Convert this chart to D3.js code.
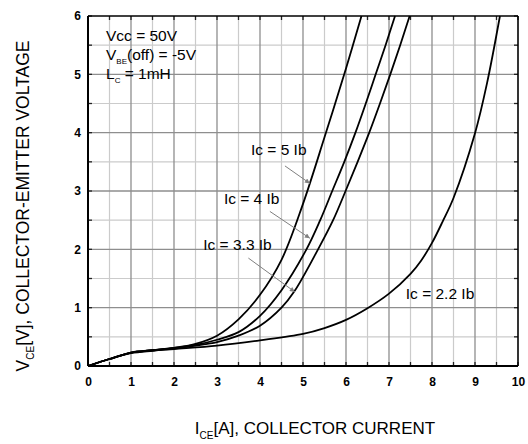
<!DOCTYPE html>
<html>
<head>
<meta charset="utf-8">
<script src="https://cdn.jsdelivr.net/npm/d3@7"></script>
<style>
  body { margin: 0; background: #fff; }
  svg { display: block; font-family: Arial, "Liberation Sans", sans-serif; }
  .tick-label { font-weight: bold; font-size: 12px; }
  .note { font-size: 15.5px; }
</style>
</head>
<body>
<svg id="chart" width="528" height="444"></svg>
<script>
// values: [Ic (A), Vce (V)]
const curve5Ib = [[0,0],[0.5,0.12],[1,0.23],[1.5,0.27],[2,0.31],[2.5,0.38],[3,0.52],[3.5,0.8],[4,1.22],[4.5,1.82],[5,2.78],[5.5,3.92],[6,5.1],[6.36,6.0]];
const curve4Ib = [[0,0],[0.5,0.12],[1,0.23],[1.5,0.27],[2,0.31],[2.5,0.36],[3,0.45],[3.5,0.58],[4,0.86],[4.5,1.3],[5.08,2.0],[5.4,2.5],[5.68,3.0],[5.96,3.5],[6.22,4.0],[6.46,4.5],[6.69,5.0],[6.92,5.5],[7.14,6.0]];
const curve33Ib = [[0,0],[0.5,0.12],[1,0.23],[1.5,0.27],[2,0.3],[2.5,0.35],[3,0.41],[3.5,0.52],[4,0.69],[4.5,1.0],[4.8,1.28],[5.35,2.0],[5.7,2.5],[5.99,3.0],[6.27,3.5],[6.54,4.0],[6.79,4.5],[7.03,5.0],[7.26,5.5],[7.48,6.0]];
const curve22Ib = [[0,0],[0.5,0.12],[1,0.22],[1.5,0.26],[2,0.29],[3,0.35],[4,0.44],[5,0.55],[5.5,0.65],[6,0.79],[6.5,0.99],[7,1.24],[7.5,1.58],[7.75,1.81],[8,2.11],[8.25,2.48],[8.5,2.88],[9,3.99],[9.28,4.85],[9.58,6.0]];

const xTicks = [0,1,2,3,4,5,6,7,8,9,10];
const yTicks = [0,1,2,3,4,5,6];

// curve labels and leader arrows, in data units
const curveLabels = [
  {text: "Ic = 5 Ib",   x: 3.79, y: 3.62, from: [4.58, 3.43], to: [5.16, 3.13]},
  {text: "Ic = 4 Ib",   x: 3.16, y: 2.78, from: [4.23, 2.65], to: [5.16, 2.19]},
  {text: "Ic = 3.3 Ib", x: 2.68, y: 1.99, from: [3.73, 1.85], to: [4.81, 1.27]},
  {text: "Ic = 2.2 Ib", x: 7.39, y: 1.15, from: null, to: null}
];

const svg = d3.select("#chart");
const margin = {left: 88, top: 16, right: 10, bottom: 78};
const W = 528 - margin.left - margin.right;
const H = 444 - margin.top - margin.bottom;

const x = d3.scaleLinear().domain([0, 10]).range([0, W]);
const y = d3.scaleLinear().domain([0, 6]).range([H, 0]);

const g = svg.append("g").attr("transform", `translate(${margin.left},${margin.top})`);

// grid: light half-steps first, then the darker whole steps
const halfX = d3.range(0.5, 10, 1), halfY = d3.range(0.5, 6, 1);
g.append("g").selectAll("line").data(halfX).join("line")
  .attr("x1", d => x(d)).attr("x2", d => x(d)).attr("y1", 0).attr("y2", H)
  .attr("stroke", "#cbcbcb").attr("stroke-width", 1.2);
g.append("g").selectAll("line").data(halfY).join("line")
  .attr("y1", d => y(d)).attr("y2", d => y(d)).attr("x1", 0).attr("x2", W)
  .attr("stroke", "#cbcbcb").attr("stroke-width", 1.2);
g.append("g").selectAll("line").data(xTicks.slice(1, -1)).join("line")
  .attr("x1", d => x(d)).attr("x2", d => x(d)).attr("y1", 0).attr("y2", H)
  .attr("stroke", "#8e8e8e").attr("stroke-width", 1.3);
g.append("g").selectAll("line").data(yTicks.slice(1, -1)).join("line")
  .attr("y1", d => y(d)).attr("y2", d => y(d)).attr("x1", 0).attr("x2", W)
  .attr("stroke", "#8e8e8e").attr("stroke-width", 1.3);

// inward tick marks on every side
const allX = d3.range(0, 10.01, 0.5), allY = d3.range(0, 6.01, 0.5);
const tk = g.append("g").attr("stroke", "#222").attr("stroke-width", 1.3);
allX.forEach(v => {
  tk.append("line").attr("x1", x(v)).attr("x2", x(v)).attr("y1", H).attr("y2", H - 4);
  tk.append("line").attr("x1", x(v)).attr("x2", x(v)).attr("y1", 0).attr("y2", 4);
});
allY.forEach(v => {
  tk.append("line").attr("y1", y(v)).attr("y2", y(v)).attr("x1", 0).attr("x2", 4);
  tk.append("line").attr("y1", y(v)).attr("y2", y(v)).attr("x1", W).attr("x2", W - 4);
});

// axes (labels only, frame drawn separately)
const xAxis = g.append("g").attr("transform", `translate(0,${H})`)
  .call(d3.axisBottom(x).tickValues(xTicks).tickFormat(d3.format("d")).tickSize(0).tickPadding(11));
const yAxis = g.append("g")
  .call(d3.axisLeft(y).tickValues(yTicks).tickFormat(d3.format("d")).tickSize(0).tickPadding(7));
[xAxis, yAxis].forEach(a => {
  a.select(".domain").remove();
  a.selectAll("text").attr("class", "tick-label").attr("fill", "#000").style("font-family", "Arial, 'Liberation Sans', sans-serif");
});

// frame
g.append("line").attr("x1", 0).attr("x2", W).attr("y1", 0).attr("y2", 0).attr("stroke", "#000").attr("stroke-width", 1.6);
g.append("line").attr("x1", W).attr("x2", W).attr("y1", 0).attr("y2", H).attr("stroke", "#000").attr("stroke-width", 1.6);
g.append("line").attr("x1", 0).attr("x2", W).attr("y1", H).attr("y2", H).attr("stroke", "#000").attr("stroke-width", 2);
g.append("line").attr("x1", 0).attr("x2", 0).attr("y1", 0).attr("y2", H).attr("stroke", "#000").attr("stroke-width", 2);

// curves
const line = d3.line().x(d => x(d[0])).y(d => y(d[1])).curve(d3.curveCatmullRom.alpha(0.5));
[curve5Ib, curve4Ib, curve33Ib, curve22Ib].forEach(c => {
  g.append("path").datum(c).attr("d", line)
    .attr("fill", "none").attr("stroke", "#000").attr("stroke-width", 1.8);
});

// arrows
svg.append("defs").append("marker")
  .attr("id", "arr").attr("viewBox", "0 0 10 10").attr("refX", 10).attr("refY", 5)
  .attr("markerWidth", 7).attr("markerHeight", 5).attr("orient", "auto")
  .attr("markerUnits", "userSpaceOnUse")
  .append("path").attr("d", "M0,0 L10,5 L0,10 z").attr("fill", "#808080");

curveLabels.forEach(l => {
  g.append("text").attr("class", "note").attr("x", x(l.x)).attr("y", y(l.y)).text(l.text);
  if (l.from) {
    g.append("line").attr("x1", x(l.from[0])).attr("y1", y(l.from[1]))
      .attr("x2", x(l.to[0])).attr("y2", y(l.to[1]))
      .attr("stroke", "#808080").attr("stroke-width", 1).attr("marker-end", "url(#arr)");
  }
});

// conditions box
const cond = svg.append("text").attr("class", "note").attr("x", 106).attr("y", 41);
cond.append("tspan").text("Vcc = 50V");
const l2 = svg.append("text").attr("class", "note").attr("x", 106).attr("y", 60);
l2.append("tspan").text("V");
l2.append("tspan").attr("dy", 4).style("font-size", "8px").text("BE");
l2.append("tspan").attr("dy", -4).text("(off) = -5V");
const l3 = svg.append("text").attr("class", "note").attr("x", 106).attr("y", 78.5);
l3.append("tspan").text("L");
l3.append("tspan").attr("dy", 4).style("font-size", "8px").text("C");
l3.append("tspan").attr("dy", -4).text(" = 1mH");

// axis titles
const xt = svg.append("text").attr("x", 315).attr("y", 434).attr("text-anchor", "middle").style("font-size", "17px");
xt.append("tspan").text("I");
xt.append("tspan").attr("dy", 5).style("font-size", "10px").text("CE");
xt.append("tspan").attr("dy", -5).text("[A], COLLECTOR CURRENT");

const yt = svg.append("text").attr("transform", "translate(28.5,206) rotate(-90)")
  .attr("text-anchor", "middle").style("font-size", "17.5px");
yt.append("tspan").text("V");
yt.append("tspan").attr("dy", 5).style("font-size", "10px").text("CE");
yt.append("tspan").attr("dy", -5).text("[V], COLLECTOR-EMITTER VOLTAGE");
</script>
</body>
</html>
